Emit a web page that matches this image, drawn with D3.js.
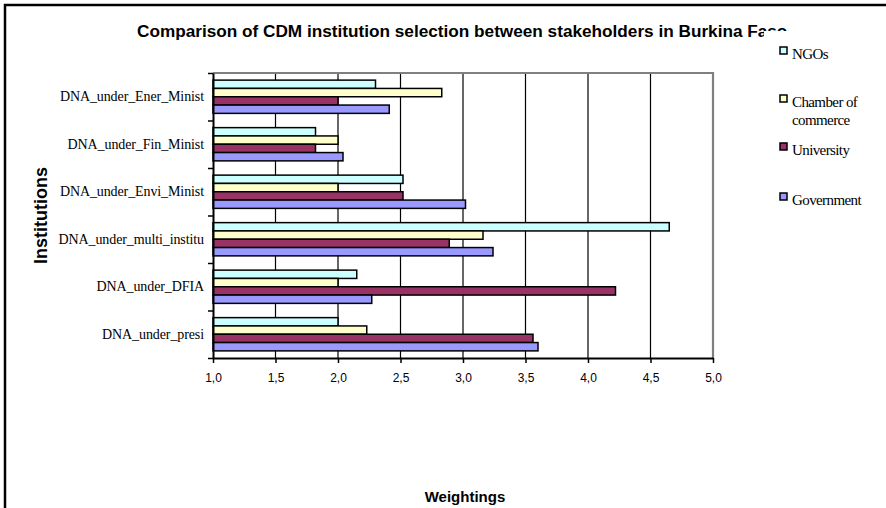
<!DOCTYPE html>
<html>
<head>
<meta charset="utf-8">
<script src="https://cdn.jsdelivr.net/npm/d3@7"></script>
<style>
html,body{margin:0;padding:0;background:#fff;}
svg{display:block;}
</style>
</head>
<body>
<svg id="chart" width="886" height="508"></svg>
<script>
const categories = ["DNA_under_Ener_Minist","DNA_under_Fin_Minist","DNA_under_Envi_Minist","DNA_under_multi_institu","DNA_under_DFIA","DNA_under_presi"];
const seriesNames = ["NGOs","Chamber of commerce","University","Government"];
const ngos       = [2.30, 1.82, 2.52, 4.65, 2.15, 2.00];
const chamber    = [2.83, 2.00, 2.00, 3.16, 2.00, 2.23];
const university = [2.00, 1.82, 2.52, 2.89, 4.22, 3.56];
const government = [2.41, 2.04, 3.02, 3.24, 2.27, 3.60];
const xTicks = [1.0,1.5,2.0,2.5,3.0,3.5,4.0,4.5,5.0];
const colors = ["#CCFFFF","#FFFFCC","#993366","#9999FF"];
const titleText = "Comparison of CDM institution selection between stakeholders in Burkina Faso";

const seriesValues = [ngos, chamber, university, government];
const svg = d3.select("#chart");

const L = 213, R = 713, T = 73, B = 358;

// outer frame
svg.append("rect").attr("x",5).attr("y",5).attr("width",1000).attr("height",1000)
  .attr("fill","#fff").attr("stroke","#000").attr("stroke-width",2.5);

const x = d3.scaleLinear().domain([1,5]).range([L,R]);
const y0 = d3.scaleBand().domain(categories).range([T,B]).paddingInner(0.3).paddingOuter(0.15);
const y1 = d3.scaleBand().domain(seriesNames).range([0,y0.bandwidth()]);
const yb = d3.scaleLinear().domain([0,categories.length]).range([T,B]);

// title
svg.append("text").attr("x",137).attr("y",37)
  .attr("font-family","Liberation Sans, Arial, sans-serif").attr("font-weight","bold")
  .attr("font-size",17.2).attr("fill","#000").text(titleText);

// gridlines
svg.append("g").selectAll("line").data(xTicks.slice(1,-1)).join("line")
  .attr("x1",d=>x(d)).attr("x2",d=>x(d)).attr("y1",T).attr("y2",B)
  .attr("stroke","#000").attr("stroke-width",1.2);

// plot border top/right (gray)
svg.append("path").attr("d",`M${L},${T}H${R}V${B}`).attr("fill","none")
  .attr("stroke","#808080").attr("stroke-width",2.2);

// bars
const rows = [];
categories.forEach((c,i)=>seriesNames.forEach((s,j)=>rows.push({c,s,j,v:seriesValues[j][i]})));
svg.append("g").selectAll("rect").data(rows).join("rect")
  .attr("x",x(1))
  .attr("y",d=>y0(d.c)+y1(d.s))
  .attr("width",d=>x(d.v)-x(1))
  .attr("height",y1.bandwidth())
  .attr("fill",d=>colors[d.j])
  .attr("stroke","#000").attr("stroke-width",1.5);

// x axis
const xAxis = svg.append("g").attr("transform",`translate(0,${B})`)
  .call(d3.axisBottom(x).tickValues(xTicks).tickSize(5).tickSizeOuter(0)
    .tickFormat(d=>d3.format(".1f")(d).replace(".",",")));
xAxis.select(".domain").attr("stroke","#000").attr("stroke-width",2);
xAxis.selectAll(".tick line").attr("stroke","#000").attr("stroke-width",1.5);
xAxis.selectAll("text").attr("font-family","Liberation Sans, Arial, sans-serif")
  .attr("font-size",12).attr("fill","#000").attr("dy","1.3em");

// y axis boundary ticks
const yTickAxis = svg.append("g").attr("transform",`translate(${L},0)`)
  .call(d3.axisLeft(yb).tickValues(d3.range(categories.length+1)).tickSize(5).tickSizeOuter(0).tickFormat(""));
yTickAxis.select(".domain").attr("stroke","#000").attr("stroke-width",2);
yTickAxis.selectAll(".tick line").attr("stroke","#000").attr("stroke-width",1.5);

// y labels
const yLab = svg.append("g").attr("transform",`translate(${L},0)`)
  .call(d3.axisLeft(y0).tickSize(0).tickPadding(9));
yLab.select(".domain").remove();
yLab.selectAll("text").attr("font-family","Liberation Serif, Times New Roman, serif")
  .attr("font-size",14).attr("fill","#000").attr("letter-spacing","-0.1");

// axis titles
svg.append("text").attr("transform",`translate(47,${(T+B)/2}) rotate(-90)`)
  .attr("text-anchor","middle").attr("font-family","Liberation Sans, Arial, sans-serif")
  .attr("font-weight","bold").attr("font-size",18).text("Institutions");
svg.append("text").attr("x",465).attr("y",502).attr("text-anchor","middle")
  .attr("font-family","Liberation Sans, Arial, sans-serif")
  .attr("font-weight","bold").attr("font-size",15).text("Weightings");

// legend
const leg = svg.append("g");
leg.append("rect").attr("x",764).attr("y",31).attr("width",120).attr("height",188).attr("fill","#fff");
const legItems = [
  {lines:["NGOs"], my:47},
  {lines:["Chamber of","commerce"], my:95},
  {lines:["University"], my:143},
  {lines:["Government"], my:193}
];
legItems.forEach((it,i)=>{
  leg.append("rect").attr("x",780).attr("y",it.my).attr("width",7).attr("height",7)
    .attr("fill",colors[i]).attr("stroke","#000").attr("stroke-width",1.5);
  it.lines.forEach((ln,k)=>{
    leg.append("text").attr("x",792).attr("y",it.my+12+k*18)
      .attr("font-family","Liberation Serif, Times New Roman, serif")
      .attr("font-size",15).attr("letter-spacing","-0.6").attr("fill","#000").text(ln);
  });
});
</script>
</body>
</html>
